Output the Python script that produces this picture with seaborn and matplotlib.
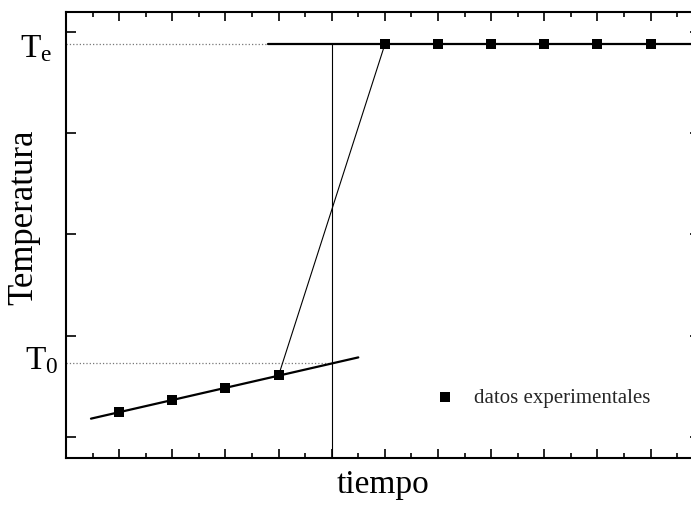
import numpy as np
import pandas as pd
import matplotlib
matplotlib.use("Agg")
import matplotlib.pyplot as plt
import matplotlib.transforms as mtransforms
import seaborn as sns

# ---- data ----
t_low = [1, 2, 3, 4]
T_low = [0.244, 0.363, 0.481, 0.606]
t_high = [6, 7, 8, 9, 10, 11]
T_high = [3.88, 3.88, 3.88, 3.88, 3.88, 3.88]
low_fit_range = [0.47, 5.5]
high_fit_range = [3.8, 12.0]
t_eq = 5.0
x_ticks = list(range(0, 12))
y_ticks = [0, 1, 2, 3, 4]
legend_label = "datos experimentales"
xlabel = "tiempo"
ylabel = "Temperatura"

# ---- style ----
sns.set_theme(style="ticks")
plt.rcParams["font.family"] = ["Liberation Serif", "DejaVu Serif"]
plt.rcParams["mathtext.fontset"] = "custom"
plt.rcParams["mathtext.rm"] = "Liberation Serif"
plt.rcParams["mathtext.it"] = "Liberation Serif:italic"

fig = plt.figure(figsize=(6.91, 5.07), dpi=100)
ax_w_px = 634
ax = fig.add_axes([66 / 691, 49 / 507, ax_w_px / 691, 446 / 507])

# derived quantities
coef = np.polyfit(t_low, T_low, 1)
Te = float(np.mean(T_high))
T0 = float(np.polyval(coef, t_eq))

low_fit = pd.DataFrame({"t": low_fit_range, "T": np.polyval(coef, low_fit_range)})
high_fit = pd.DataFrame({"t": high_fit_range, "T": [Te, Te]})
jump = pd.DataFrame({"t": [t_low[-1], t_high[0]], "T": [T_low[-1], T_high[0]]})

ylim = (-0.21, 4.2)
xlim = (0, 11.93)

# reference dotted lines
sns.lineplot(x=[xlim[0], high_fit_range[0]], y=[Te, Te], ax=ax, color="#777777",
             linestyle=":", linewidth=0.9)
sns.lineplot(x=[xlim[0], t_eq], y=[T0, T0], ax=ax, color="#777777",
             linestyle=":", linewidth=0.9)
# vertical line at t_eq
sns.lineplot(x=[t_eq, t_eq], y=[ylim[0], Te], ax=ax, color="black",
             linewidth=0.8, sort=False, estimator=None)
# fits
sns.lineplot(data=low_fit, x="t", y="T", ax=ax, color="black", linewidth=1.6)
sns.lineplot(data=high_fit, x="t", y="T", ax=ax, color="black", linewidth=1.6)
# jump
sns.lineplot(data=jump, x="t", y="T", ax=ax, color="black", linewidth=0.8)

# points
pts = pd.DataFrame({"t": t_low + t_high, "T": T_low + T_high})
sns.scatterplot(data=pts, x="t", y="T", ax=ax, marker="s", s=60, color="black",
                linewidth=0, label=legend_label, zorder=5)

ax.set_xlim(*xlim)
ax.set_ylim(*ylim)
ax.set_xticks(x_ticks + [12])
ax.set_xticks(np.arange(0.5, 12, 1.0), minor=True)
ax.set_yticks(y_ticks)
ax.set_xlim(*xlim)
ax.set_xticklabels([])
ax.set_yticklabels([])
ax.tick_params(axis="x", which="major", direction="in", length=6.5, width=1.2,
               top=True, bottom=True, color="black")
ax.tick_params(axis="x", which="minor", direction="in", length=3.5, width=1.2,
               top=True, bottom=True, color="black")
ax.tick_params(axis="y", which="major", direction="in", length=7, width=1.2,
               left=True, right=True, color="black")
for sp in ax.spines.values():
    sp.set_visible(True)
    sp.set_linewidth(1.5)
    sp.set_color("black")

ax.set_xlabel(xlabel, fontsize=24, color="black")
ax.set_ylabel(ylabel, fontsize=25, color="black")
ax.xaxis.set_label_coords((383 - 66) / ax_w_px, -0.025)
ax.yaxis.set_label_coords((24 - 66) / ax_w_px, 0.54)
ax.yaxis.label.set_va("center")

trans = mtransforms.blended_transform_factory(ax.transAxes, ax.transData)
off_e = mtransforms.ScaledTranslation(0, -13 / 100, fig.dpi_scale_trans)
off_0 = mtransforms.ScaledTranslation(0, -6 / 100, fig.dpi_scale_trans)
ax.text((20 - 66) / ax_w_px, Te, r"$\mathrm{T_e}$", transform=trans + off_e, fontsize=24,
        ha="left", va="baseline", color="black")
ax.text((25 - 66) / ax_w_px, T0, r"$\mathrm{T_0}$", transform=trans + off_0, fontsize=24,
        ha="left", va="baseline", color="black")

leg = ax.legend(loc="center left", bbox_to_anchor=((434.5 - 66) / ax_w_px, 0.1345),
                frameon=False, fontsize=15, handlelength=1.0, handletextpad=0.9,
                borderpad=0, borderaxespad=0, markerscale=0.85)

fig.savefig("out.png", dpi=100, facecolor="white")
